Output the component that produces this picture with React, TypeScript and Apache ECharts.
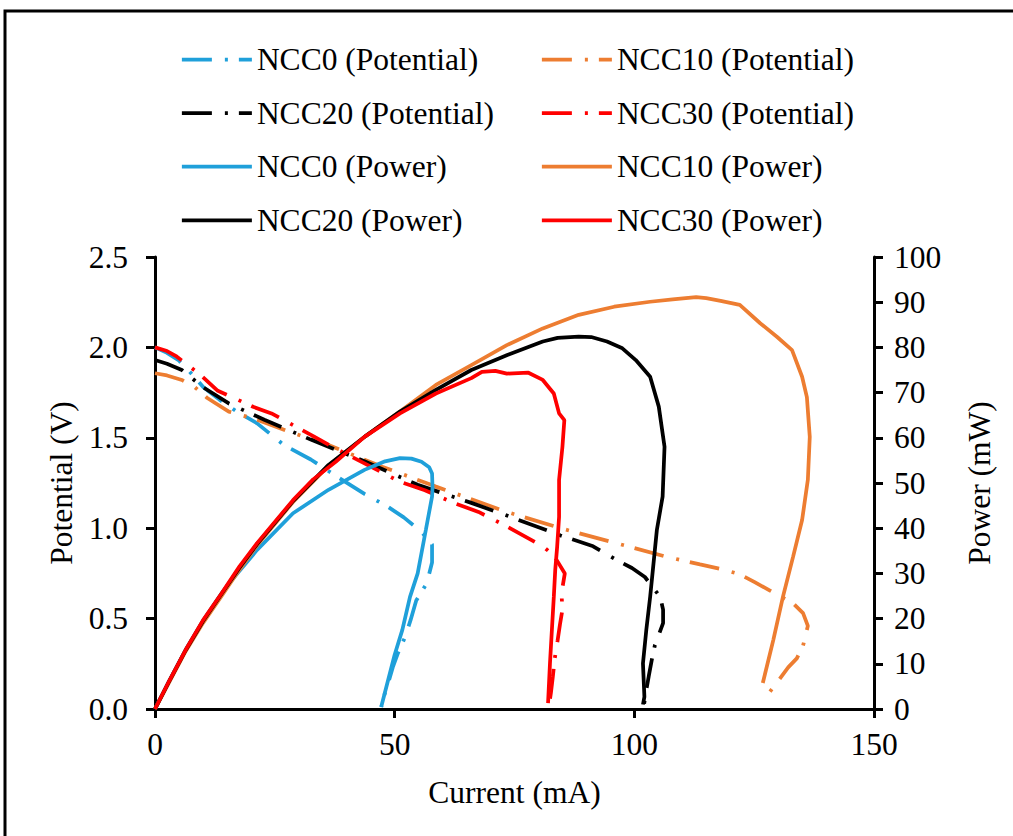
import React, { useEffect, useRef } from "react";
import * as echarts from "echarts";

// ---------- Data (current mA, potential V / power mW) ----------
const ncc0PotI = [0, 2.5, 4.9, 7.2, 10.1, 13.5, 16.8, 21.3, 26.9, 32.5, 37.7, 43.7, 48.5, 51.9, 55.6, 57.8, 57.8, 56.7, 54.5, 53.3, 52.2, 50.7, 49.6, 48.5, 47.5, 47.2];
const ncc0PotV = [2.0, 1.97, 1.93, 1.866, 1.78, 1.71, 1.65, 1.58, 1.46, 1.38, 1.29, 1.19, 1.12, 1.06, 0.98, 0.91, 0.81, 0.695, 0.6, 0.49, 0.4, 0.31, 0.23, 0.13, 0.05, 0.01];

const ncc10PotI = [0, 2.5, 5.6, 8.3, 10.9, 15.4, 18.7, 21.3, 27.3, 36.2, 47.4, 58.6, 73.4, 84.6, 95.8, 107.0, 113.7, 118, 122, 125.2, 128.3, 133.1, 135.2, 136.2, 135.2, 133.9, 132.1, 129, 127.1];
const ncc10PotV = [1.857, 1.845, 1.82, 1.78, 1.72, 1.645, 1.62, 1.6, 1.54, 1.46, 1.34, 1.23, 1.09, 1.0, 0.92, 0.84, 0.8, 0.775, 0.745, 0.7, 0.655, 0.585, 0.53, 0.46, 0.35, 0.28, 0.23, 0.12, 0.055];

const ncc20PotI = [0, 2.5, 5.6, 10, 15.4, 22.8, 32.5, 43.7, 54.8, 66.0, 73.4, 84.6, 91.4, 96.6, 99.5, 102.2, 105.4, 106, 106, 104.3, 103.7, 103, 102.4, 102];
const ncc20PotV = [1.93, 1.91, 1.875, 1.78, 1.69, 1.6, 1.49, 1.37, 1.24, 1.14, 1.07, 0.96, 0.9, 0.82, 0.78, 0.73, 0.62, 0.55, 0.475, 0.354, 0.28, 0.18, 0.09, 0.02];

const ncc30PotI = [0, 2.5, 4.5, 9.4, 13.1, 16.5, 20.6, 24.3, 29.5, 33.2, 37.7, 43.6, 51.1, 56.3, 62.3, 67.5, 73.4, 77.9, 80.9, 83.2, 85.5, 84.8, 85.0, 84.5, 84.0, 83.4, 83.0, 82.6, 82.2];
const ncc30PotV = [2.0, 1.98, 1.95, 1.85, 1.76, 1.72, 1.67, 1.635, 1.56, 1.506, 1.44, 1.36, 1.257, 1.21, 1.14, 1.09, 1.01, 0.944, 0.9, 0.85, 0.75, 0.64, 0.55, 0.47, 0.38, 0.28, 0.18, 0.09, 0.02];

const ncc0PowI = [0, 3, 6.4, 10, 13.9, 16, 17.6, 21.3, 28.8, 36.2, 43.7, 48, 51.1, 53.5, 55.6, 57.2, 57.8, 57.9, 57.8, 56.5, 54.8, 53.2, 51.6, 50, 48.1, 47.2];
const ncc0PowP = [0, 6.3, 13.1, 19.5, 25.6, 28.5, 30.5, 35.2, 43.3, 48.5, 52.9, 54.8, 55.5, 55.4, 54.7, 53.5, 52.1, 49, 47.0, 39.6, 30.0, 24.8, 17.5, 12, 4.2, 0.5];

const ncc10PowI = [0, 3, 6.4, 10, 13.9, 17.6, 21.3, 28.8, 36.2, 43.7, 51.1, 58.6, 66.0, 73.4, 80.9, 88.4, 95.8, 103.3, 108, 112.9, 115, 118, 122, 126.2, 129.8, 132.9, 135, 136, 136.6, 136.2, 135, 133.1, 131, 129, 126.8];
const ncc10PowP = [0, 6.0, 12.8, 19.0, 25.0, 30.8, 36.2, 45.8, 53.8, 60.2, 65.8, 71.7, 76.1, 80.5, 84.2, 87.2, 89.0, 90.1, 90.6, 91.1, 90.9, 90.3, 89.4, 85.4, 82.3, 79.4, 73.5, 69.0, 60.2, 50.7, 41.8, 33.6, 24.8, 15.3, 5.75];

const ncc20PowI = [0, 3, 6.4, 10, 13.9, 17.6, 21.3, 28.8, 36.2, 43.7, 51.1, 58.6, 66.0, 73.5, 80.9, 84, 88.4, 91, 94.3, 97.5, 100.3, 103.3, 105.1, 106.3, 105.9, 104.7, 104.0, 103.3, 102.5, 101.8, 102.1, 101.8];
const ncc20PowP = [0, 6.2, 13.0, 19.4, 25.5, 31.2, 36.5, 46.0, 54.0, 60.2, 65.8, 70.6, 75.0, 78.3, 81.3, 82.1, 82.4, 82.3, 81.3, 79.8, 77.2, 73.5, 66.9, 58.0, 47.0, 39.6, 32.2, 24.8, 17.5, 10.1, 2.7, 1.0];

const ncc30PowI = [0, 3, 6.4, 10, 13.9, 17.6, 21.3, 28.8, 33, 37.7, 43.7, 51.1, 58.6, 66.0, 68.2, 71, 73.4, 77.9, 80.9, 83.2, 84.3, 85.4, 85.0, 84.3, 84.3, 83.9, 83.5, 83.2, 82.8, 82.4, 82.0];
const ncc30PowP = [0, 6.3, 13.1, 19.6, 25.6, 31.5, 36.7, 46.2, 50.8, 54.7, 60.2, 65.4, 69.8, 73.2, 74.6, 74.8, 74.2, 74.4, 72.8, 69.8, 65.4, 63.9, 58.0, 50.7, 42.5, 35.9, 30.8, 24.8, 17.5, 10.1, 1.3];

const legendCol1 = ["NCC0 (Potential)", "NCC20 (Potential)", "NCC0 (Power)", "NCC20 (Power)"];
const legendCol2 = ["NCC10 (Potential)", "NCC30 (Potential)", "NCC10 (Power)", "NCC30 (Power)"];

const BLUE = "#1FA0DA";
const ORANGE = "#ED7D31";
const BLACK = "#000000";
const RED = "#FF0000";

const FONT = '"Liberation Serif", "Times New Roman", serif';
const FS = 31.5;
const DASH = [30, 13, 3, 11];
const LW = 3.75;

function pairs(xs: number[], ys: number[]) {
  return xs.map((x, i) => [x, ys[i]]);
}

function mk(name: string, xs: number[], ys: number[], color: string, yAxisIndex: number, dashed: boolean) {
  return {
    name,
    type: "line",
    yAxisIndex,
    data: pairs(xs, ys),
    symbol: "none",
    showSymbol: false,
    smooth: false,
    color,
    lineStyle: { color, width: LW, type: dashed ? DASH : "solid", cap: "butt" },
    emphasis: { disabled: true },
  };
}

export default function App() {
  const ref = useRef<HTMLDivElement>(null);
  useEffect(() => {
    const chart = echarts.init(ref.current!, undefined, { renderer: "svg" });
    const axisText = { color: "#000", fontFamily: FONT, fontSize: FS };
    const legendBase = {
      orient: "vertical",
      top: 43.5,
      itemWidth: 70,
      itemHeight: 14,
      itemGap: 21.6,
      padding: 0,
      selectedMode: false,
      itemStyle: { opacity: 0 },
      lineStyle: { width: LW },
      textStyle: { color: "#000", fontFamily: FONT, fontSize: FS },
    };
    chart.setOption({
      animation: false,
      backgroundColor: "#fff",
      grid: { left: 155, top: 257, width: 719, height: 452 },
      legend: [
        { ...legendBase, left: 180, data: legendCol1 },
        { ...legendBase, left: 540, data: legendCol2 },
      ],
      xAxis: {
        type: "value",
        min: 0,
        max: 150,
        interval: 50,
        name: "Current (mA)",
        nameLocation: "middle",
        nameGap: 67,
        nameTextStyle: { ...axisText },
        axisLine: { show: true, lineStyle: { color: "#000", width: 3 } },
        axisTick: { show: true, inside: false, length: 9, lineStyle: { color: "#000", width: 3 } },
        axisLabel: { ...axisText, margin: 19 },
        splitLine: { show: false },
      },
      yAxis: [
        {
          type: "value",
          min: 0,
          max: 2.5,
          interval: 0.5,
          name: "Potential (V)",
          nameLocation: "middle",
          nameRotate: 90,
          nameGap: 68,
          nameTextStyle: { ...axisText },
          axisLine: { show: true, onZero: false, lineStyle: { color: "#000", width: 3 } },
          axisTick: { show: true, inside: false, length: 9, lineStyle: { color: "#000", width: 3 } },
          axisLabel: { ...axisText, margin: 27, formatter: (v: number) => v.toFixed(1) },
          splitLine: { show: false },
        },
        {
          type: "value",
          position: "right",
          min: 0,
          max: 100,
          interval: 10,
          name: "Power (mW)",
          nameLocation: "middle",
          nameRotate: 90,
          nameGap: 89,
          nameTextStyle: { ...axisText },
          axisLine: { show: true, onZero: false, lineStyle: { color: "#000", width: 3 } },
          axisTick: { show: true, inside: false, length: 9, lineStyle: { color: "#000", width: 3 } },
          axisLabel: { ...axisText, margin: 20 },
          splitLine: { show: false },
        },
      ],
      graphic: [
        {
          type: "rect",
          shape: { x: 5, y: 11, width: 1100, height: 1000 },
          style: { fill: "none", stroke: "#000", lineWidth: 3 },
          silent: true,
        },
      ],
      series: [
        mk("NCC0 (Potential)", ncc0PotI, ncc0PotV, BLUE, 0, true),
        mk("NCC10 (Potential)", ncc10PotI, ncc10PotV, ORANGE, 0, true),
        mk("NCC20 (Potential)", ncc20PotI, ncc20PotV, BLACK, 0, true),
        mk("NCC30 (Potential)", ncc30PotI, ncc30PotV, RED, 0, true),
        mk("NCC0 (Power)", ncc0PowI, ncc0PowP, BLUE, 1, false),
        mk("NCC10 (Power)", ncc10PowI, ncc10PowP, ORANGE, 1, false),
        mk("NCC20 (Power)", ncc20PowI, ncc20PowP, BLACK, 1, false),
        mk("NCC30 (Power)", ncc30PowI, ncc30PowP, RED, 1, false),
      ],
    });
    return () => chart.dispose();
  }, []);
  return (
    <div
      ref={ref}
      style={{ position: "fixed", left: 0, top: 0, width: 1013, height: 836, background: "#fff" }}
    />
  );
}
